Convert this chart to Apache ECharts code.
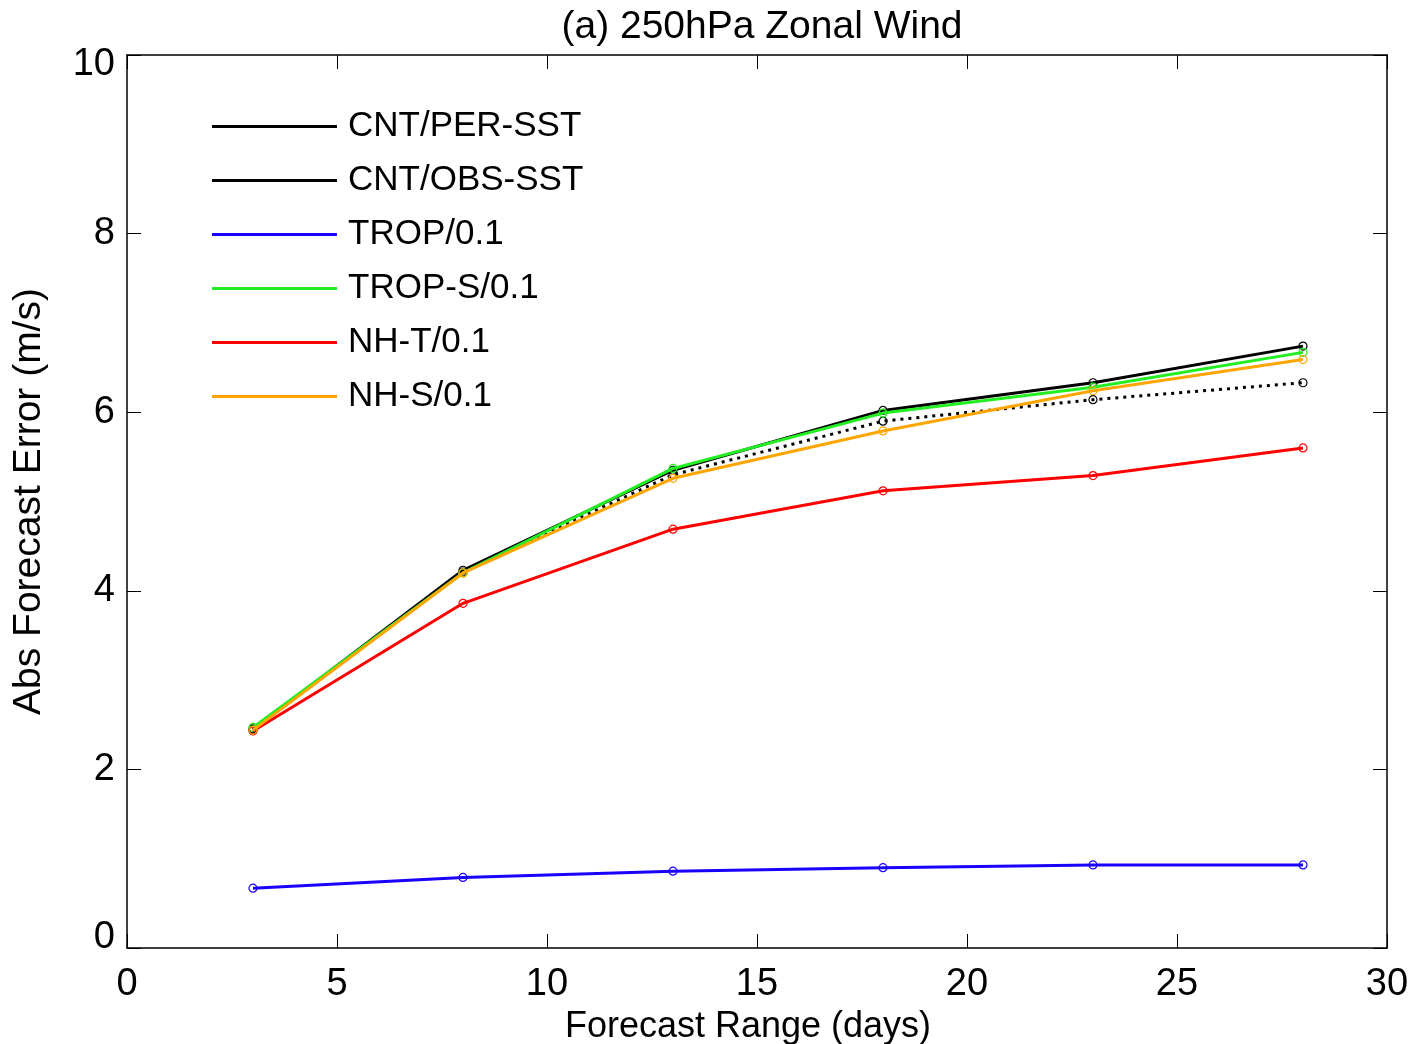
<!DOCTYPE html>
<html>
<head>
<meta charset="utf-8">
<script src="https://cdn.jsdelivr.net/npm/echarts@6/dist/echarts.min.js"></script>
<style>html,body{margin:0;padding:0;background:#fff;}#c{width:1412px;height:1044px;}</style>
</head>
<body>
<div id="c"></div>
<script>
var days = [3, 8, 13, 18, 23, 28];
var seriesNames = ['CNT/PER-SST', 'CNT/OBS-SST', 'TROP/0.1', 'TROP-S/0.1', 'NH-T/0.1', 'NH-S/0.1'];
var cntPer  = [2.45, 4.23, 5.35, 6.02, 6.33, 6.74];
var cntObs  = [2.45, 4.21, 5.30, 5.90, 6.14, 6.33];
var trop    = [0.67, 0.79, 0.86, 0.90, 0.93, 0.93];
var tropS   = [2.47, 4.20, 5.37, 5.99, 6.28, 6.67];
var nhT     = [2.43, 3.86, 4.69, 5.12, 5.29, 5.60];
var nhS     = [2.44, 4.20, 5.26, 5.79, 6.24, 6.59];
var xTicks = [0, 5, 10, 15, 20, 25, 30];
var yTicks = [0, 2, 4, 6, 8, 10];

var values = [cntPer, cntObs, trop, tropS, nhT, nhS];
var colors = ['#000000', '#000000', '#1a00ff', '#22ee22', '#ff0000', '#ffa500'];
var dashes = ['solid', [3, 5], 'solid', 'solid', 'solid', 'solid'];

function pairs(v) { return days.map(function (d, i) { return [d, v[i]]; }); }

var FONT = '"Liberation Sans", Arial, Helvetica, sans-serif';
var chart = echarts.init(document.getElementById('c'), null, {renderer: 'canvas'});

var series = seriesNames.map(function (n, i) {
  return {
    name: n,
    type: 'line',
    data: pairs(values[i]),
    symbol: 'circle',
    symbolSize: 8,
    showSymbol: true,
    lineStyle: {color: colors[i], width: 3, type: dashes[i]},
    itemStyle: {color: 'rgba(255,255,255,0)', borderColor: colors[i], borderWidth: 1.2},
    emphasis: {disabled: true},
    animation: false,
    z: 2 + i
  };
});

var axisCommon = {
  type: 'value',
  axisLine: {show: true, onZero: false, lineStyle: {color: '#000', width: 1.5}},
  axisTick: {show: true, inside: true, length: 14, lineStyle: {color: '#000', width: 1}},
  splitLine: {show: false}
};

var yMin = yTicks[0], yMax = yTicks[yTicks.length - 1];

chart.setOption({
  backgroundColor: '#fff',
  animation: false,
  title: {
    text: '(a) 250hPa Zonal Wind',
    left: 757, top: 3, textAlign: 'center',
    textStyle: {fontFamily: FONT, fontSize: 39, fontWeight: 'normal', color: '#000'}
  },
  grid: {left: 127, right: 25, top: 55, bottom: 96, containLabel: false, outerBoundsMode: 'none'},
  legend: {
    orient: 'vertical',
    left: 212, top: 109,
    padding: 0,
    icon: 'rect',
    itemWidth: 125, itemHeight: 3,
    itemGap: 19,
    data: seriesNames.map(function (n, i) {
      return {name: n, itemStyle: {color: colors[i], borderWidth: 0}};
    }),
    textStyle: {fontFamily: FONT, fontSize: 35, color: '#000', padding: [0, 0, 0, 6]},
    selectedMode: false
  },
  xAxis: [
    Object.assign({}, axisCommon, {
      min: 0, max: 30, interval: 5, position: 'bottom',
      name: 'Forecast Range (days)', nameLocation: 'middle', nameGap: 61,
      nameTextStyle: {fontFamily: FONT, fontSize: 36, color: '#000', padding: [0, 18, 0, 0]},
      axisLabel: {show: true, margin: 18, fontFamily: FONT, fontSize: 38, color: '#000',
        formatter: function (v) { return xTicks.indexOf(v) >= 0 ? String(v) : ''; }}
    }),
    Object.assign({}, axisCommon, {
      min: 0, max: 30, interval: 5, position: 'top', axisLabel: {show: false}
    })
  ],
  yAxis: [
    Object.assign({}, axisCommon, {
      min: yMin, max: yMax, interval: 2, position: 'left',
      name: 'Abs Forecast Error (m/s)', nameLocation: 'middle', nameGap: 78,
      nameTextStyle: {fontFamily: FONT, fontSize: 39, color: '#000'},
      axisLabel: {show: true, margin: 12, fontFamily: FONT, fontSize: 38, color: '#000',
        formatter: function (v) {
          if (yTicks.indexOf(v) < 0) return '';
          if (v === yMax) return '{hi|' + v + '}';
          if (v === yMin) return '{lo|' + v + '}';
          return String(v);
        },
        rich: {
          hi: {fontFamily: FONT, fontSize: 38, color: '#000', padding: [20, 0, 0, 0]},
          lo: {fontFamily: FONT, fontSize: 38, color: '#000', padding: [0, 0, 20, 0]}
        }
      }
    }),
    Object.assign({}, axisCommon, {
      min: yMin, max: yMax, interval: 2, position: 'right', axisLabel: {show: false}
    })
  ],
  series: series
});
</script>
</body>
</html>
